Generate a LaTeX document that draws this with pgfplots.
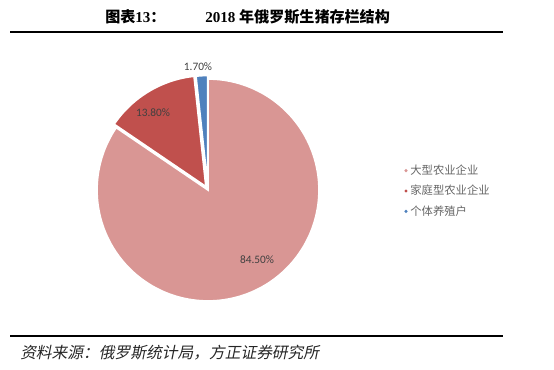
\documentclass[border=0pt]{standalone}
\usepackage{pgfplots}
\pgfplotsset{compat=1.18}
\usepackage{fontspec}
\setmainfont{Liberation Serif}
\newfontfamily\cjk{Noto Sans CJK SC}
\newfontfamily\cjkit[FakeSlant=0.2]{Noto Sans CJK SC}
\newfontfamily\lab{Carlito}
\definecolor{cbig}{RGB}{217,150,148}
\definecolor{cred}{RGB}{192,80,77}
\definecolor{cblue}{RGB}{79,129,189}
\definecolor{labc}{RGB}{64,64,64}
\begin{document}
\begin{tikzpicture}
\begin{axis}[at={(0,0)}, anchor=south west,
  width=415.5pt, height=277.5pt, scale only axis,
  xmin=0, xmax=554, ymin=0, ymax=370,
  hide axis, clip=false,
  legend style={at={(axis cs:404,179)}, anchor=west, draw=none, fill=none,
    font=\cjk\fontsize{8.5}{10}\selectfont, text=black!60,
    row sep=2.5pt, inner xsep=0pt, nodes={inner xsep=2pt}},
  legend cell align=left,
  legend image code/.code={\fill[#1,draw=none] (0.1em,0) circle (1.3pt);},
]
% values in percent: 84.5, 13.8, 1.7 ; pie starts at 12 o'clock, clockwise
\addplot[fill=cbig, draw=white, line width=1.3pt, domain=-214.2:90, samples=150]
  ({208+111*cos(x)},{180+111*sin(x)}) -- (axis cs:208,180) -- cycle;
\addlegendentry{大型农业企业}
\addplot[fill=cred, draw=white, line width=1.3pt, domain=-263.88:-214.2, samples=40]
  ({205.9+111*cos(x)},{183.4+111*sin(x)}) -- (axis cs:205.9,183.4) -- cycle;
\addlegendentry{家庭型农业企业}
\addplot[fill=cblue, draw=white, line width=1.3pt, domain=-270:-263.88, samples=10]
  ({207.8+111*cos(x)},{183.5+111*sin(x)}) -- (axis cs:207.8,183.5) -- cycle;
\addlegendentry{个体养殖户}

\node[font=\lab\fontsize{8.5}{10}\selectfont, text=labc] at (axis cs:257,110) {84.50\%};
\node[font=\lab\fontsize{8.5}{10}\selectfont, text=labc] at (axis cs:153,257) {13.80\%};
\node[font=\lab\fontsize{8.5}{10}\selectfont, text=labc] at (axis cs:198,303) {1.70\%};

\node[anchor=west, inner sep=0pt, font=\fontsize{11.3}{13}\selectfont] at (axis cs:105,353) {{\cjk\bfseries 图表}\textbf{13}{\cjk\bfseries ：}};
\node[anchor=west, inner sep=0pt, font=\fontsize{11.3}{13}\selectfont] at (axis cs:205,353) {\textbf{2018} {\cjk\bfseries 年俄罗斯生猪存栏结构}};
\draw[line width=2pt] (axis cs:10,338) -- (axis cs:503,338);
\draw[line width=1.6pt] (axis cs:10,34) -- (axis cs:503,34);
\node[anchor=west, inner sep=0pt, font=\cjkit\fontsize{11.8}{13}\selectfont, text=black!85] at (axis cs:20,17) {资料来源：俄罗斯统计局，方正证券研究所};
\end{axis}
\pgfresetboundingbox
\path (0,0) rectangle (415.5pt,277.5pt);
\end{tikzpicture}
\end{document}
